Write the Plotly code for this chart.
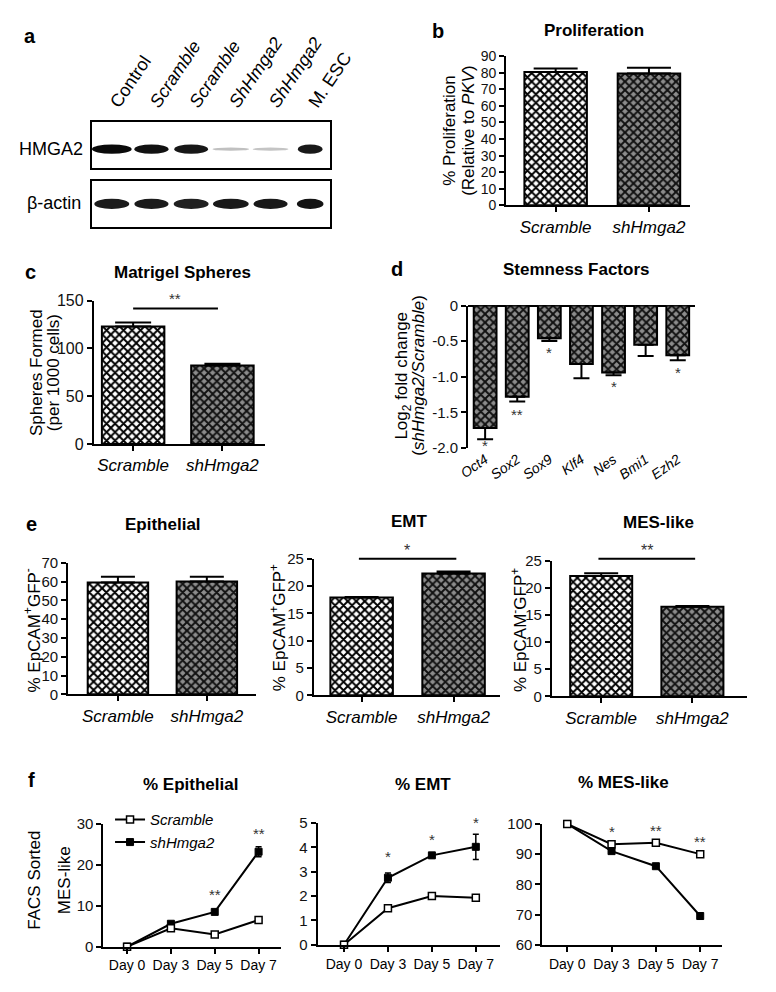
import plotly.graph_objects as go

W, H = 776, 992
FONT = "Arial, 'Liberation Sans', Helvetica, sans-serif"

# ---------------- data ----------------
lane_labels = ["Control", "<i>Scramble</i>", "<i>Scramble</i>", "<i>ShHmga2</i>", "<i>ShHmga2</i>", "M. ESC"]
hmga2_intensity = [1.0, 0.97, 0.94, 0.16, 0.14, 0.93]
hmga2_width = [1.0, 0.86, 0.85, 0.92, 0.9, 0.62]
actin_intensity = [0.92, 0.92, 0.9, 0.93, 0.93, 0.96]
actin_width = [0.88, 0.86, 0.88, 0.9, 0.86, 0.67]

groups = ["Scramble", "shHmga2"]
prolif = [80.5, 79.5]
prolif_err = [2.0, 3.5]
spheres = [123, 82]
spheres_err = [4, 2]

genes = ["Oct4", "Sox2", "Sox9", "Klf4", "Nes", "Bmi1", "Ezh2"]
log2fc = [-1.72, -1.28, -0.46, -0.82, -0.94, -0.55, -0.70]
log2fc_err = [0.16, 0.07, 0.04, 0.20, 0.04, 0.16, 0.07]
gene_sig = ["*", "**", "*", "", "*", "", "*"]
gene_sig_y = [-1.96, -1.53, -0.66, 0, -1.14, 0, -0.94]

epi = [59.5, 60.0]
epi_err = [3.0, 2.5]
emt = [17.9, 22.3]
emt_err = [0.1, 0.4]
mes = [22.2, 16.5]
mes_err = [0.5, 0.15]

days = ["Day 0", "Day 3", "Day 5", "Day 7"]
f_epi_scr = [0, 4.5, 3.0, 6.5]
f_epi_scr_err = [0.2, 0.3, 0.2, 0.3]
f_epi_sh = [0, 5.6, 8.5, 23.2]
f_epi_sh_err = [0.2, 0.3, 0.3, 1.2]
f_epi_sig = ["", "", "**", "**"]
f_epi_sig_y = [0, 0, 12.7, 27.6]

f_emt_scr = [0, 1.5, 2.0, 1.93]
f_emt_scr_err = [0.02, 0.08, 0.04, 0.03]
f_emt_sh = [0, 2.75, 3.67, 4.02]
f_emt_sh_err = [0.02, 0.2, 0.1, 0.52]
f_emt_sig = ["", "*", "*", "*"]
f_emt_sig_y = [0, 3.63, 4.31, 5.0]

f_mes_scr = [100, 93.3, 93.8, 90.0]
f_mes_scr_err = [0.3, 0.4, 0.3, 0.4]
f_mes_sh = [100, 91.0, 86.0, 69.5]
f_mes_sh_err = [0.3, 0.4, 0.4, 1.0]
f_mes_sig = ["", "*", "**", "**"]
f_mes_sig_y = [0, 97.4, 97.7, 94.1]

# ---------------- helpers ----------------
def px_x(x):
    return x / W


def px_y(y):
    return 1 - y / H


def dom(x0, x1, y0, y1):
    return [x0 / W, x1 / W], [1 - y1 / H, 1 - y0 / H]


fig = go.Figure()
layout = dict(
    width=W, height=H, margin=dict(l=0, r=0, t=0, b=0),
    paper_bgcolor="white", plot_bgcolor="white",
    font=dict(family=FONT, color="black", size=15),
    showlegend=True,
)
annotations = []
shapes = []

AX_LINE = dict(showline=True, linecolor="black", linewidth=2, ticks="outside",
               ticklen=5, tickwidth=2, tickcolor="black", showgrid=False, zeroline=False,
               tickfont=dict(size=15, color="#111"))


def add_axes(i, box, xcfg, ycfg):
    xd, yd = dom(*box)
    xa = dict(domain=xd, anchor=f"y{i}")
    xa.update(xcfg)
    ya = dict(domain=yd, anchor=f"x{i}")
    ya.update(ycfg)
    layout[f"xaxis{i}"] = xa
    layout[f"yaxis{i}"] = ya


def text(xp, yp, t, size=17, bold=False, angle=0, xanchor="center", yanchor="middle", color="black"):
    if bold:
        t = f"<b>{t}</b>"
    annotations.append(dict(x=px_x(xp), y=px_y(yp), xref="paper", yref="paper", text=t,
                            showarrow=False, textangle=angle, xanchor=xanchor, yanchor=yanchor,
                            font=dict(size=size, family=FONT, color=color)))


WHITE_PAT = dict(color="white", pattern=dict(shape="x", fgcolor="black", bgcolor="white",
                                              size=6, solidity=0.55, fillmode="replace"),
                 line=dict(color="black", width=2))
GRAY_PAT = dict(color="#8c8c8c", pattern=dict(shape="x", fgcolor="#111111", bgcolor="#8c8c8c",
                                               size=6, solidity=0.55, fillmode="replace"),
                line=dict(color="black", width=2))


def bar_pair(i, vals, errs, width, capw):
    for k, (v, e) in enumerate(zip(vals, errs)):
        fig.add_trace(go.Bar(
            x=[k], y=[v], width=width, xaxis=f"x{i}", yaxis=f"y{i}", showlegend=False,
            marker=WHITE_PAT if k == 0 else GRAY_PAT,
            error_y=dict(type="data", symmetric=False, array=[e], arrayminus=[0],
                         color="black", thickness=2, width=capw),
        ))


def group_xaxis(rng):
    d = dict(AX_LINE)
    d.update(range=rng, tickvals=[0, 1], ticktext=[f"<i>{g}</i>" for g in groups],
             tickfont=dict(size=17, color="black"))
    return d


def yax(rng, dtick, **kw):
    d = dict(AX_LINE)
    d.update(range=rng, dtick=dtick, tick0=0)
    d.update(kw)
    return d


# ---------------- panel a (western blot) ----------------
blot_x = dict(range=[-0.5, 5.5], showline=True, mirror=True, linecolor="black", linewidth=1.5,
              ticks="", showgrid=False, zeroline=False, tickvals=list(range(6)))
blot_y = dict(range=[0, 1], showline=True, mirror=True, linecolor="black", linewidth=1.5,
              ticks="", showgrid=False, zeroline=False, showticklabels=False)
xa1 = dict(blot_x)
xa1.update(side="top", ticktext=lane_labels, tickangle=-56, tickfont=dict(size=18, color="black"))
add_axes(1, (85, 335, 115, 162), xa1, blot_y)
xa2 = dict(blot_x)
xa2.update(showticklabels=False)
add_axes(2, (85, 335, 175, 222), xa2, blot_y)
for i in (1, 2):
    fig.add_trace(go.Scatter(x=[0, 5], y=[0.5, 0.5], xaxis=f"x{i}", yaxis=f"y{i}",
                             mode="markers", marker=dict(opacity=0), showlegend=False, hoverinfo="skip"))


def band_color(v):
    g = int(round(255 * (1 - v) * 0.85 + 10))
    return f"rgb({g},{g},{g})"


for lane, (inten, wd) in enumerate(zip(hmga2_intensity, hmga2_width)):
    hh = 0.1 if inten > 0.5 else 0.035
    shapes.append(dict(type="circle", xref="x", yref="y", x0=lane - wd / 2, x1=lane + wd / 2,
                       y0=0.41 - hh, y1=0.41 + hh, fillcolor=band_color(inten), line=dict(width=0)))
for lane, (inten, wd) in enumerate(zip(actin_intensity, actin_width)):
    shapes.append(dict(type="circle", xref="x2", yref="y2", x0=lane - wd / 2, x1=lane + wd / 2,
                       y0=0.5 - 0.11, y1=0.5 + 0.11, fillcolor=band_color(inten), line=dict(width=0)))

text(20, 27, "a", size=20, bold=True)
text(78, 143, "HMGA2", size=18, xanchor="right")
text(76, 198, "β-actin", size=18, xanchor="right")

# ---------------- panel b ----------------
add_axes(3, (520, 713, 48, 200), group_xaxis([-0.53, 1.44]), yax([0, 90], 10, tickfont=dict(size=14, color="#111")))
bar_pair(3, prolif, prolif_err, 0.67, 22)
text(448, 22, "b", size=20, bold=True)
text(612, 22, "Proliferation", bold=True)
text(461, 124, "% Proliferation", angle=-90)
text(481, 124, "(Relative to <i>PKV</i>)", angle=-90)

# ---------------- panel c ----------------
add_axes(4, (87, 267, 297, 443), group_xaxis([-0.44, 1.48]), yax([0, 150], 50, tickfont=dict(size=16, color="#111")))
bar_pair(4, spheres, spheres_err, 0.7, 18)
text(20, 268, "c", size=20, bold=True)
text(180, 268, "Matrigel Spheres", bold=True)
text(27, 370, "Spheres Formed", angle=-90)
text(44, 370, "(per 1000 cells)", angle=-90)
shapes.append(dict(type="line", xref="x4", yref="paper", x0=0, x1=0.95, y0=px_y(305), y1=px_y(305),
                   line=dict(color="black", width=2)))
text(172, 295, "**", size=15, color="#333")

# ---------------- panel d ----------------
xd = dict(range=[-0.53, 6.53], tickvals=list(range(7)), ticktext=[f"<i>{g}</i>" for g in genes],
          tickangle=-35, showline=False, ticks="", showgrid=False, zeroline=False,
          tickfont=dict(size=14, color="black"))
add_axes(5, (480, 718, 302, 447), xd,
         yax([-2, 0], 0.5, tickvals=[0, -0.5, -1, -1.5, -2], ticktext=["0", "-0.5", "-1.0", "-1.5", "-2.0"],
             zeroline=True, zerolinecolor="black", zerolinewidth=2, tickfont=dict(size=15, color="#111")))
fig.add_trace(go.Bar(
    x=list(range(7)), y=log2fc, width=0.71, xaxis="x5", yaxis="y5", showlegend=False,
    marker=GRAY_PAT,
    error_y=dict(type="data", symmetric=False, array=[0] * 7, arrayminus=log2fc_err,
                 color="black", thickness=2, width=8),
))
for k, (s, sy) in enumerate(zip(gene_sig, gene_sig_y)):
    if s:
        annotations.append(dict(x=k, y=sy, xref="x5", yref="y5", text=s, showarrow=False,
                                yanchor="middle", font=dict(size=15, color="#333")))
text(405, 265, "d", size=20, bold=True)
text(593, 265, "Stemness Factors", bold=True)
text(412, 373, "Log<sub>2</sub> fold change", angle=-90)
text(428, 373, "(<i>shHmga2/Scramble</i>)", angle=-90)

# ---------------- panel e ----------------
add_axes(6, (60, 257, 564, 698), group_xaxis([-0.56, 1.55]), yax([0, 70], 10))
bar_pair(6, epi, epi_err, 0.68, 17)
add_axes(7, (318, 513, 560, 699), group_xaxis([-0.52, 1.5]), yax([0, 25], 5))
bar_pair(7, emt, emt_err, 0.68, 17)
add_axes(8, (568, 773, 562, 700), group_xaxis([-0.54, 1.6]), yax([0, 25], 5))
bar_pair(8, mes, mes_err, 0.68, 17)
text(22, 525, "e", size=20, bold=True)
text(160, 525, "Epithelial", bold=True)
text(418, 522, "EMT", bold=True)
text(680, 523, "MES-like", bold=True)
text(22, 633, "% EpCAM<sup>+</sup>GFP<sup>-</sup>", angle=-90)
text(280, 630, "% EpCAM<sup>+</sup>GFP<sup>+</sup>", angle=-90)
text(533, 633, "% EpCAM<sup>-</sup>GFP<sup>+</sup>", angle=-90)
shapes.append(dict(type="line", xref="x7", yref="paper", x0=-0.03, x1=1.03, y0=px_y(560), y1=px_y(560),
                   line=dict(color="black", width=2)))
text(416, 551, "*", size=16, color="#333")
shapes.append(dict(type="line", xref="x8", yref="paper", x0=-0.03, x1=1.03, y0=px_y(560), y1=px_y(560),
                   line=dict(color="black", width=2)))
text(668, 551, "**", size=16, color="#333")

# ---------------- panel f ----------------
def day_xaxis(rng):
    d = dict(AX_LINE)
    d.update(range=rng, tickvals=[0, 1, 2, 3], ticktext=days, tickfont=dict(size=14, color="black"))
    return d


def lines(i, scr, scr_err, sh, sh_err, legend):
    xs = [0, 1, 2, 3]
    fig.add_trace(go.Scatter(
        x=xs, y=sh, xaxis=f"x{i}", yaxis=f"y{i}", mode="lines+markers", name="<i>shHmga2</i>",
        line=dict(color="black", width=2), cliponaxis=False, showlegend=legend,
        marker=dict(symbol="square", size=7, color="black", line=dict(color="black", width=1)),
        error_y=dict(type="data", array=sh_err, color="black", thickness=1.5, width=3),
    ))
    fig.add_trace(go.Scatter(
        x=xs, y=scr, xaxis=f"x{i}", yaxis=f"y{i}", mode="lines+markers", name="<i>Scramble</i>",
        line=dict(color="black", width=2), cliponaxis=False, showlegend=legend,
        marker=dict(symbol="square", size=7, color="white", line=dict(color="black", width=1.5)),
        error_y=dict(type="data", array=scr_err, color="black", thickness=1.5, width=3),
    ))


def stars(i, sig, sy):
    for k, (s, y) in enumerate(zip(sig, sy)):
        if s:
            annotations.append(dict(x=k, y=y, xref=f"x{i}", yref=f"y{i}", text=s, showarrow=False,
                                    yanchor="middle", font=dict(size=15, color="#333")))


add_axes(9, (97, 283, 830, 955), day_xaxis([-0.54, 3.5]), yax([0, 30], 10))
lines(9, f_epi_scr, f_epi_scr_err, f_epi_sh, f_epi_sh_err, True)
stars(9, f_epi_sig, f_epi_sig_y)
add_axes(10, (322, 513, 829, 953), day_xaxis([-0.6, 3.54]), yax([0, 5], 1))
lines(10, f_emt_scr, f_emt_scr_err, f_emt_sh, f_emt_sh_err, False)
stars(10, f_emt_sig, f_emt_sig_y)
add_axes(11, (558, 747, 830, 953), day_xaxis([-0.56, 3.5]), yax([60, 100], 10, tick0=60))
lines(11, f_mes_scr, f_mes_scr_err, f_mes_sh, f_mes_sh_err, False)
stars(11, f_mes_sig, f_mes_sig_y)

text(22, 785, "f", size=20, bold=True)
text(188, 790, "% Epithelial", bold=True)
text(433, 790, "% EMT", bold=True)
text(643, 788, "% MES-like", bold=True)
text(25, 887, "FACS Sorted", angle=-90)
text(57, 887, "MES-like", angle=-90)

layout["legend"] = dict(x=px_x(104), y=px_y(809), xanchor="left", yanchor="top",
                        bgcolor="rgba(0,0,0,0)", font=dict(size=15, color="black"),
                        traceorder="reversed", itemwidth=30, tracegroupgap=0)
layout["annotations"] = annotations
layout["shapes"] = shapes
fig.update_layout(**layout)
fig.write_html("out.html", config={"displayModeBar": False},
               post_script="document.body.style.margin='0';document.body.style.overflow='hidden';")
